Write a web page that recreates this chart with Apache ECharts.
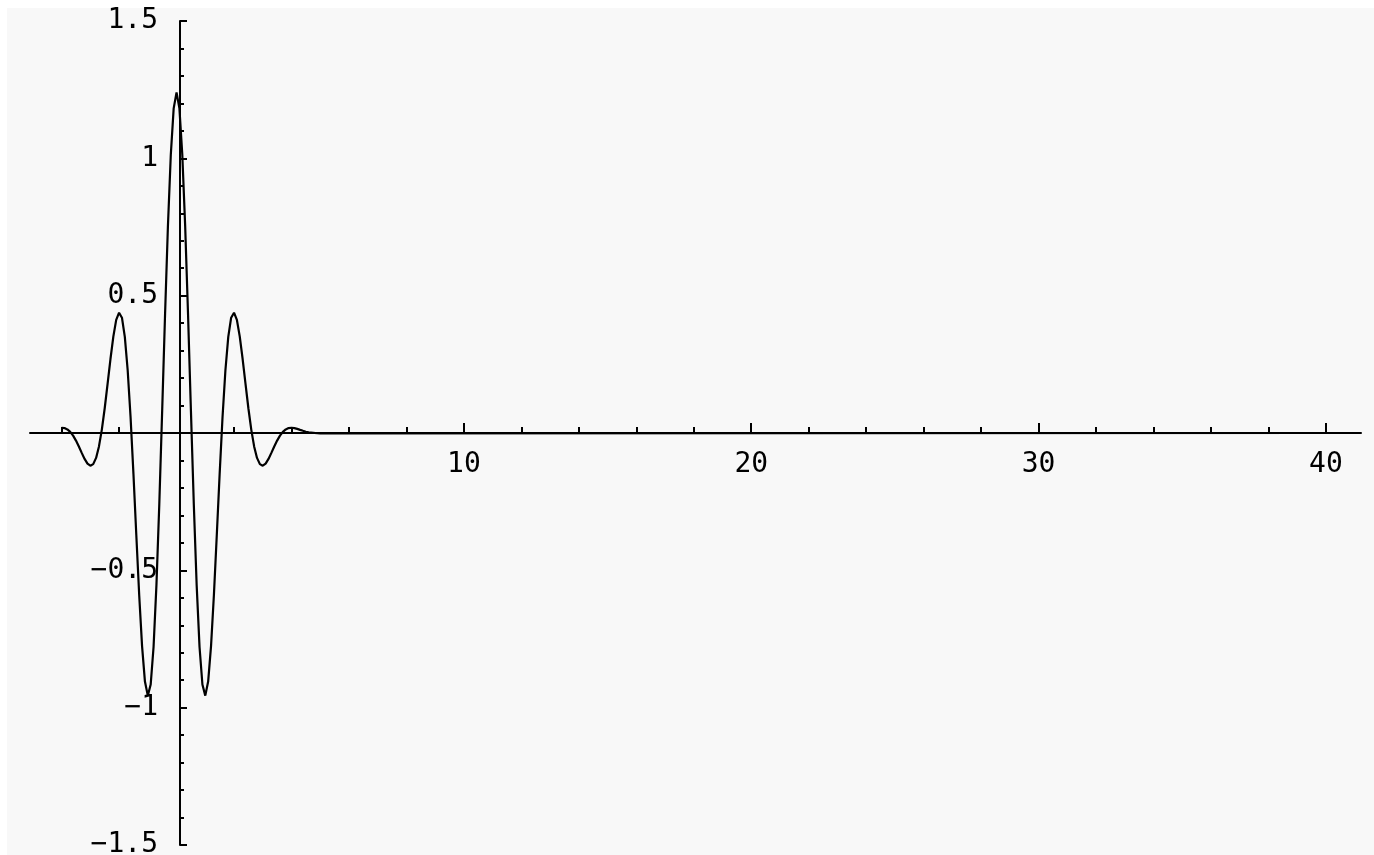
<!DOCTYPE html>
<html>
<head>
<meta charset="utf-8">
<script src="https://cdn.jsdelivr.net/npm/echarts@6/dist/echarts.min.js"></script>
<style>
  html, body { margin: 0; padding: 0; background: #ffffff; }
  #bg { position: absolute; left: 7px; top: 8px; right: 0; bottom: 0; background: #f8f8f8; }
  #chart { position: absolute; left: 0; top: 0; width: 1374px; height: 855px; }
</style>
</head>
<body>
<div id="bg"></div>
<div id="chart"></div>
<script>
// Curve samples
var xs = [-4.0, -3.9, -3.8, -3.7, -3.6, -3.5, -3.4, -3.3, -3.2, -3.1,
          -3.0, -2.9, -2.8, -2.7, -2.6, -2.5, -2.4, -2.3, -2.2, -2.1,
          -2.0, -1.9, -1.8, -1.7, -1.6, -1.5, -1.4, -1.3, -1.2, -1.1,
          -1.0, -0.9, -0.8, -0.7, -0.6, -0.5, -0.4, -0.3, -0.2, -0.1,
           0.0,  0.1,  0.2,  0.3,  0.4,  0.5,  0.6,  0.7,  0.8,  0.9,
           1.0,  1.1,  1.2,  1.3,  1.4,  1.5,  1.6,  1.7,  1.8,  1.9,
           2.0,  2.1,  2.2,  2.3,  2.4,  2.5,  2.6,  2.7,  2.8,  2.9,
           3.0,  3.1,  3.2,  3.3,  3.4,  3.5,  3.6,  3.7,  3.8,  3.9,
           4.0,  4.1,  4.2,  4.3,  4.4,  4.5,  4.6,  5.0, 40.0];
var ys = [0.0192, 0.0178, 0.0131, 0.0042, -0.0094, -0.0276, -0.0490, -0.0724, -0.0944, -0.1114,
          -0.1191, -0.1133, -0.0907, -0.0488, 0.0123, 0.0901, 0.1787, 0.2694, 0.3508, 0.4117,
          0.4380, 0.4198, 0.3501, 0.2276, 0.0572, -0.1489, -0.3724, -0.5900, -0.7758, -0.9049,
          -0.9561, -0.9156, -0.7792, -0.5538, -0.2575, 0.0824, 0.4317, 0.7536, 1.0132, 1.1817,
          1.2400, 1.1817, 1.0132, 0.7536, 0.4317, 0.0824, -0.2575, -0.5538, -0.7792, -0.9156,
          -0.9561, -0.9049, -0.7758, -0.5900, -0.3724, -0.1489, 0.0572, 0.2276, 0.3501, 0.4198,
          0.4380, 0.4117, 0.3508, 0.2694, 0.1787, 0.0901, 0.0123, -0.0488, -0.0907, -0.1133,
          -0.1191, -0.1114, -0.0944, -0.0724, -0.0490, -0.0276, -0.0094, 0.0042, 0.0131, 0.0178,
          0.0192, 0.0179, 0.0151, 0.0115, 0.0080, 0.0047, 0.0021, -0.0018, 0.0];

// Axis ticks and labels
var xMajorTicks = [10, 20, 30, 40];
var xMinorTicks = [-4, -2, 2, 4, 6, 8, 12, 14, 16, 18, 22, 24, 26, 28, 32, 34, 36, 38];
var yMin = -1.5, yMax = 1.5, yStep = 0.5;
var xMin = -5.1, xMax = 41.22;

var pts = xs.map(function (x, i) { return [x, ys[i]]; });
var FONT = '"DejaVu Sans Mono", "Liberation Mono", monospace';
var BLACK = '#000';

var chart = echarts.init(document.getElementById('chart'), null, { renderer: 'canvas' });
chart.setOption({
  backgroundColor: 'transparent',
  animation: false,
  grid: [
    { left: 30, right: 13, top: 21, bottom: 10, containLabel: false, outerBoundsMode: 'none' },
    { left: 30, right: 13, top: 21, bottom: 422, containLabel: false, outerBoundsMode: 'none' }
  ],
  xAxis: [{
    gridIndex: 0, type: 'value', min: xMin, max: xMax,
    axisLine: { show: false, onZero: false }, axisTick: { show: false },
    axisLabel: { show: false }, splitLine: { show: false }
  }, {
    gridIndex: 1, type: 'value', min: xMin, max: xMax, position: 'bottom',
    axisLine: { show: true, onZero: false, lineStyle: { color: BLACK, width: 2 } },
    axisTick: { show: true, inside: true, length: 10, customValues: xMajorTicks, lineStyle: { color: BLACK, width: 2 } },
    axisLabel: { show: true, customValues: xMajorTicks, margin: 18, color: BLACK, fontFamily: FONT, fontSize: 28 },
    splitLine: { show: false }
  }, {
    gridIndex: 1, type: 'value', min: xMin, max: xMax, position: 'bottom',
    axisLine: { show: false, onZero: false },
    axisTick: { show: true, inside: true, length: 6, customValues: xMinorTicks, lineStyle: { color: BLACK, width: 2 } },
    axisLabel: { show: false },
    splitLine: { show: false }
  }],
  yAxis: [{
    gridIndex: 0, type: 'value', min: yMin, max: yMax, interval: yStep, position: 'left', offset: -150,
    axisLine: { show: true, onZero: false, lineStyle: { color: BLACK, width: 2 } },
    axisTick: { show: true, inside: true, length: 7, lineStyle: { color: BLACK, width: 2 } },
    minorTick: { show: true, splitNumber: 5, length: 4, lineStyle: { color: BLACK, width: 2 } },
    axisLabel: {
      show: true, margin: 22, color: BLACK, fontFamily: FONT, fontSize: 28,
      formatter: function (v) {
        if (Math.abs(v) < 1e-9) return '';
        var s = String(Math.round(v * 10) / 10);
        return s.replace('-', '\u2212');
      }
    },
    splitLine: { show: false }, minorSplitLine: { show: false }
  }, {
    gridIndex: 1, type: 'value', min: 0, max: 1, show: false,
    axisLine: { show: false, onZero: false }, splitLine: { show: false }
  }],
  series: [{
    type: 'line', xAxisIndex: 0, yAxisIndex: 0, data: pts, showSymbol: false, symbol: 'none',
    lineStyle: { color: BLACK, width: 2.2 }, smooth: false, z: 3
  }]
});
</script>
</body>
</html>
